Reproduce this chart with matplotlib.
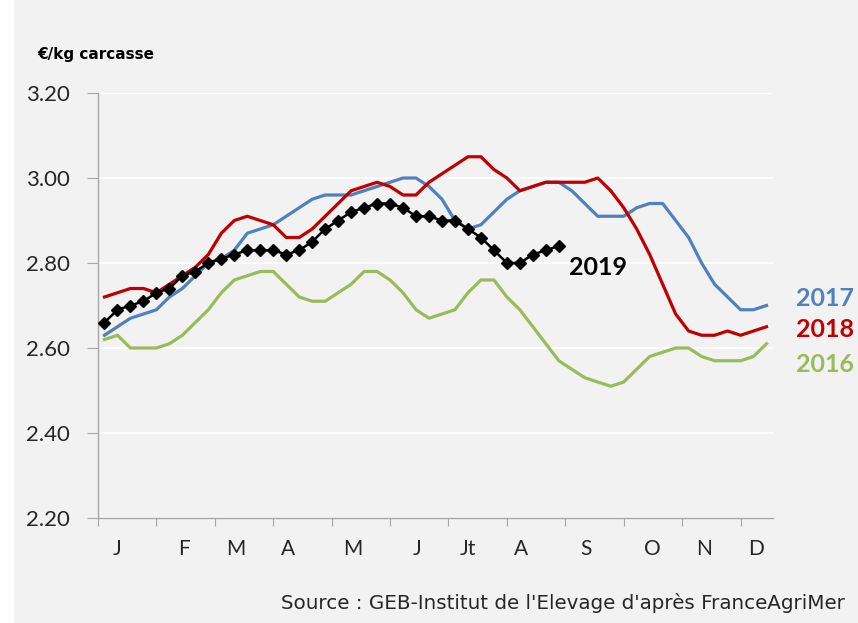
import numpy as np
import matplotlib
matplotlib.use("Agg")
import matplotlib.pyplot as plt
from matplotlib.patches import Rectangle

plt.rcParams['font.family'] = ['Lato', 'DejaVu Sans']

# weekly prices, euro/kg carcass
p2016 = [2.62, 2.63, 2.60, 2.60, 2.60, 2.61, 2.63, 2.66, 2.69, 2.73,
         2.76, 2.77, 2.78, 2.78, 2.75, 2.72, 2.71, 2.71, 2.73, 2.75,
         2.78, 2.78, 2.76, 2.73, 2.69, 2.67, 2.68, 2.69, 2.73, 2.76,
         2.76, 2.72, 2.69, 2.65, 2.61, 2.57, 2.55, 2.53, 2.52, 2.51,
         2.52, 2.55, 2.58, 2.59, 2.60, 2.60, 2.58, 2.57, 2.57, 2.57,
         2.58, 2.61]
p2017 = [2.63, 2.65, 2.67, 2.68, 2.69, 2.72, 2.74, 2.77, 2.80, 2.81,
         2.83, 2.87, 2.88, 2.89, 2.91, 2.93, 2.95, 2.96, 2.96, 2.96,
         2.97, 2.98, 2.99, 3.00, 3.00, 2.98, 2.95, 2.90, 2.88, 2.89,
         2.92, 2.95, 2.97, 2.98, 2.99, 2.99, 2.97, 2.94, 2.91, 2.91,
         2.91, 2.93, 2.94, 2.94, 2.90, 2.86, 2.80, 2.75, 2.72, 2.69,
         2.69, 2.70]
p2018 = [2.72, 2.73, 2.74, 2.74, 2.73, 2.75, 2.77, 2.79, 2.82, 2.87,
         2.90, 2.91, 2.90, 2.89, 2.86, 2.86, 2.88, 2.91, 2.94, 2.97,
         2.98, 2.99, 2.98, 2.96, 2.96, 2.99, 3.01, 3.03, 3.05, 3.05,
         3.02, 3.00, 2.97, 2.98, 2.99, 2.99, 2.99, 2.99, 3.00, 2.97,
         2.93, 2.88, 2.82, 2.75, 2.68, 2.64, 2.63, 2.63, 2.64, 2.63,
         2.64, 2.65]
p2019 = [2.66, 2.69, 2.70, 2.71, 2.73, 2.74, 2.77, 2.78, 2.80, 2.81,
         2.82, 2.83, 2.83, 2.83, 2.82, 2.83, 2.85, 2.88, 2.90, 2.92,
         2.93, 2.94, 2.94, 2.93, 2.91, 2.91, 2.90, 2.90, 2.88, 2.86,
         2.83, 2.80, 2.80, 2.82, 2.83, 2.84]

months = ['J', 'F', 'M', 'A', 'M', 'J', 'Jt', 'A', 'S', 'O', 'N', 'D']
month_pos = [1.5, 6.6, 10.6, 14.6, 19.6, 24.6, 28.5, 32.6, 37.6, 42.7, 46.7, 50.7]

bg = '#F2F2F2'
fig = plt.figure(figsize=(8.58, 6.23), dpi=100, facecolor=bg)
fig.patches.append(Rectangle((0, 0), 14 / 858, 1, transform=fig.transFigure,
                             facecolor='white', edgecolor='none', zorder=0))
ax = fig.add_axes([98 / 858, 1 - 518 / 623, 675 / 858, 425 / 623], facecolor=bg)

x = np.arange(len(p2017)) + 0.5
ax.plot(x, p2016, color='#9BBB59', lw=2.3, zorder=3)
ax.plot(x, p2017, color='#4F81BD', lw=2.3, zorder=3)
ax.plot(x, p2018, color='#C00000', lw=2.3, zorder=3)
ax.plot(x[:len(p2019)], p2019, color='black', lw=1.8, marker='D', ms=6.5, zorder=4)

ax.set_xlim(0, 52)
ax.set_ylim(2.20, 3.20)
ax.set_yticks(np.arange(2.2, 3.21, 0.2))
ax.set_yticklabels([f'{v:.2f}' for v in np.arange(2.2, 3.21, 0.2)], fontsize=16, color='#262626')
ax.grid(axis='y', color='white', lw=1.3, zorder=1)
ax.set_axisbelow(True)

ax.set_xticks(np.arange(12) * 4.5)
ax.set_xticklabels([])
ax.set_xticks(month_pos, minor=True)
ax.set_xticklabels(months, minor=True, fontsize=15, color='#262626')
ax.tick_params(axis='x', which='minor', length=0, pad=15)
ax.tick_params(axis='x', which='major', length=6, color='#A6A6A6', direction='out')
ax.tick_params(axis='y', length=8, color='#A6A6A6', pad=12)

for s in ['top', 'right']:
    ax.spines[s].set_visible(False)
for s in ['left', 'bottom']:
    ax.spines[s].set_color('#A6A6A6')
    ax.spines[s].set_linewidth(1.0)

fig.text(37 / 858, 1 - 54 / 623, '€/kg carcasse', fontsize=11, fontweight='bold',
         va='center', family='DejaVu Sans')
ax.text(x[len(p2019) - 1] + 0.8, 2.79, '2019', fontsize=18, fontweight='bold', va='center')
fig.text(796 / 858, 1 - 299 / 623, '2017', fontsize=18, fontweight='bold', color='#4F81BD', va='center')
fig.text(796 / 858, 1 - 330 / 623, '2018', fontsize=18, fontweight='bold', color='#C00000', va='center')
fig.text(796 / 858, 1 - 365 / 623, '2016', fontsize=18, fontweight='bold', color='#9BBB59', va='center')
fig.text(845 / 858, 1 - 603 / 623, "Source : GEB-Institut de l'Elevage d'après FranceAgriMer",
         fontsize=14.3, ha='right', va='center', color='#262626', family='DejaVu Sans')

fig.savefig('out.png', dpi=100, facecolor=bg)
